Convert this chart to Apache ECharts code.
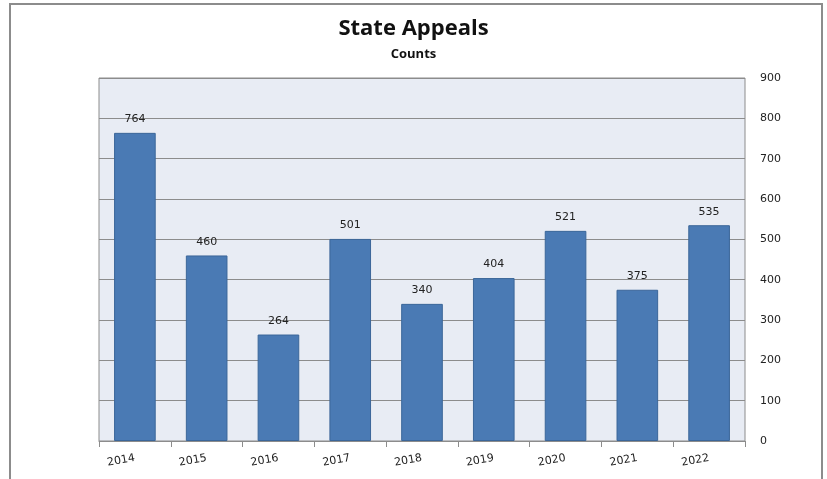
<!DOCTYPE html>
<html>
<head>
<meta charset="utf-8">
<script src="https://cdn.jsdelivr.net/npm/echarts@6/dist/echarts.min.js"></script>
<style>
  html, body { margin: 0; padding: 0; background: #fff; }
  #frame { position: absolute; left: 9px; top: 3px; width: 814px; height: 520px;
           border: 2px solid #8c8c8c; border-bottom: none; box-sizing: border-box; }
  #chart { position: absolute; left: 0; top: 0; width: 827px; height: 479px; }
</style>
</head>
<body>
<div id="frame"></div>
<div id="chart"></div>
<script>
// chart data
const years = ['2014', '2015', '2016', '2017', '2018', '2019', '2020', '2021', '2022']
const appeals = [764, 460, 264, 501, 340, 404, 521, 375, 535]

const chart = echarts.init(document.getElementById('chart'))

chart.setOption({
  animation: false,
  title: {
    text: 'State Appeals',
    subtext: 'Counts',
    left: 'center',
    top: 13,
    itemGap: 8,
    textStyle: {
      fontFamily: 'Open Sans',
      fontWeight: 'bold',
      fontSize: 22,
      color: '#111'
    },
    subtextStyle: {
      fontFamily: 'Open Sans',
      fontWeight: 'bold',
      fontSize: 13,
      color: '#111'
    }
  },
  grid: {
    left: 99,
    right: 82,
    top: 78,
    bottom: 38,
    show: true,
    backgroundColor: '#e8ecf4',
    borderColor: '#8c8c8c',
    borderWidth: 1
  },
  xAxis: {
    type: 'category',
    data: years,
    axisLine: { lineStyle: { color: '#8c8c8c', width: 1 } },
    axisTick: { show: true, length: 6, lineStyle: { color: '#8c8c8c' } },
    axisLabel: {
      rotate: 10,
      margin: 17,
      fontFamily: 'DejaVu Sans',
      fontSize: 11,
      color: '#222'
    }
  },
  yAxis: {
    type: 'value',
    position: 'right',
    min: 0,
    max: 900,
    interval: 100,
    axisLine: { show: false },
    axisTick: { show: false },
    axisLabel: {
      margin: 15,
      fontFamily: 'DejaVu Sans',
      fontSize: 11,
      color: '#222'
    },
    splitLine: { lineStyle: { color: '#8c8c8c', width: 1 } }
  },
  series: [{
    name: 'State Appeals',
    type: 'bar',
    data: appeals,
    barWidth: '58%',
    itemStyle: {
      color: '#4a7ab4',
      borderColor: '#3b6699',
      borderWidth: 1
    },
    label: {
      show: true,
      position: 'top',
      distance: 8,
      fontFamily: 'DejaVu Sans',
      fontSize: 11,
      color: '#222'
    }
  }]
})
</script>
</body>
</html>
